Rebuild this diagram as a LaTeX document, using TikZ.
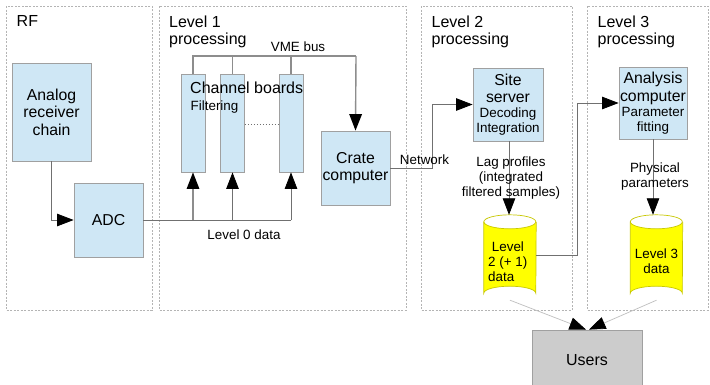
\documentclass[tikz,border=0pt]{standalone}
\usepackage{fontspec}
\setmainfont{Liberation Sans}
\usetikzlibrary{arrows.meta,calc}
\definecolor{boxblue}{HTML}{CFE7F5}
\definecolor{boxline}{HTML}{A0A0A0}
\definecolor{wire}{HTML}{707070}
\definecolor{frameline}{HTML}{B4B4B4}
\definecolor{dbyellow}{HTML}{FFFF00}
\definecolor{dbline}{HTML}{C8C800}
\definecolor{usergray}{HTML}{CCCCCC}
\newcommand{\subfont}{\fontsize{13.4}{15}\selectfont}
\tikzset{
  frame/.style={draw=frameline, dashed, dash pattern=on 2pt off 1.5pt, line width=0.6pt},
  blockbox/.style={draw=boxline, fill=boxblue, line width=0.8pt, inner sep=0pt, align=center,
    font=\fontsize{15.8}{17.5}\selectfont},
  board/.style={draw=boxline, fill=boxblue, line width=0.8pt, inner sep=0pt,
    minimum width=24, minimum height=98},
  heading/.style={anchor=north west, align=left, font=\fontsize{16}{17.5}\selectfont, inner sep=0pt},
  small/.style={font=\fontsize{13.4}{15}\selectfont, inner sep=0pt, align=center},
  wirestyle/.style={draw=wire, line width=0.8pt},
  bus/.style={draw=wire!80, line width=1.4pt},
  tip/.style={-{Triangle[length=16.5pt,width=12.5pt,color=black]}},
  userwire/.style={draw=black!25, line width=0.7pt},
}
\begin{document}
\begin{tikzpicture}[x=1pt,y=-1pt]
\useasboundingbox (0,0) rectangle (710,384);
\fill[white] (0,0) rectangle (710,384);

% processing frames
\draw[frame] (6,6) rectangle (152,310);
\draw[frame] (159,6) rectangle (406,310);
\draw[frame] (421,6) rectangle (572,310);
\draw[frame] (587,6) rectangle (708,310);
\node[heading] (hRF) at (16.5,15.5) {RF};
\node[heading] (h1) at (169,15.5) {Level 1\\processing};
\node[heading] (h2) at (431.5,15.5) {Level 2\\processing};
\node[heading] (h3) at (597.5,15.5) {Level 3\\processing};

% RF stage
\node[blockbox, minimum width=79, minimum height=98] (analog) at (51.5,112) {Analog\\receiver\\chain};
\node[blockbox, minimum width=69, minimum height=74] (adc) at (108.5,220) {ADC};
\draw[wirestyle, tip] (analog.south) |- (adc.west);

% Level 1: channel boards
\node[board] (b1) at (193,123) {};
\node[board] (b2) at (232.5,123) {};
\node[board] (b3) at (291,123) {};
\node[anchor=base west, inner sep=0pt, font=\fontsize{16}{17}\selectfont] (cbl) at (190,93) {Channel boards};
\node[anchor=base west, inner sep=0pt, font=\subfont] (filt) at (190.5,110) {Filtering};
\draw[wire, line width=1pt, dotted] (b2.east |- 0,124) -- (b3.west |- 0,124);

\node[blockbox, minimum width=69, minimum height=74] (crate) at (355.5,168) {Crate\\computer};

% VME bus
\coordinate (vmeL) at (193,56);
\coordinate (vmeR) at (356,56);
\draw[bus] (b1.north) -- (vmeL) -- (vmeR);
\draw[bus] (b2.north) -- (b2.north |- vmeL);
\draw[bus] (b3.north) -- (b3.north |- vmeL);
\draw[bus, tip] (vmeR) -- (crate.north);
\node[small] (vmel) at (298,47) {VME bus};

% Level 0 data distribution
\coordinate (l0end) at (291,220);
\draw[wirestyle] (adc.east) -- (l0end);
\draw[bus, tip] (b1.south |- l0end) -- (b1.south);
\draw[wirestyle, tip] (b2.south |- l0end) -- (b2.south);
\draw[wirestyle, tip] (l0end) -- (b3.south);
\node[small] (l0l) at (244,235) {Level 0 data};

% Level 2
\node[blockbox, minimum width=70, minimum height=73] (site) at (508,104.5)
  {Site\\server\\[-2.5pt]{\subfont Decoding}\\[-2.5pt]{\subfont Integration}};
\coordinate (netA) at (432,168);
\draw[wirestyle, tip] (crate.east |- netA) -- (netA) |- (site.west);
\node[small] (netl) at (424.5,160) {Network};

% data stores
\node[minimum width=52, minimum height=85, inner sep=0pt] (db2) at (510,257.5) {};
\node[minimum width=52, minimum height=85, inner sep=0pt] (db3) at (656.5,257.5) {};
\foreach \d in {db2,db3}{
  \fill[dbyellow] ($(\d.north west)+(0,7)$) -- ($(\d.south west)+(0,-7)$)
    arc[start angle=180, end angle=360, x radius=26, y radius=7]
    -- ($(\d.north east)+(0,7)$) arc[start angle=0, end angle=180, x radius=26, y radius=7] -- cycle;
  \draw[dbline, line width=0.7pt] ($(\d.north west)+(0,7)$) -- ($(\d.south west)+(0,-7)$)
    arc[start angle=180, end angle=360, x radius=26, y radius=7] -- ($(\d.north east)+(0,7)$);
  \draw[dbline, line width=0.7pt] ($(\d.north west)+(0,7)$) arc[start angle=180, end angle=540, x radius=26, y radius=7];
}
\node[anchor=west, align=left, inner sep=0pt, font=\subfont] (db2t) at (488,262) {\ Level\\2 (+ 1)\\data};
\node[align=center, inner sep=0pt, font=\subfont] (db3t) at (656.5,261) {Level 3\\data};

\draw[wirestyle, tip] (site.south -| 509,0) -- (db2.north -| 509,0);
\node[small] (lagl) at (511,178) {Lag profiles\\(integrated\\filtered samples)};

% Level 3
\node[blockbox, minimum width=68, minimum height=72] (ana) at (653,103)
  {Analysis\\computer\\[-2.5pt]{\subfont Parameter}\\[-2.5pt]{\subfont fitting}};
\coordinate (l2A) at (577,255);
\draw[wirestyle, tip] (db2.east |- l2A) -- (l2A) |- (ana.west);
\draw[wirestyle, tip] (ana.south) -- (ana.south |- db3.north);
\node[small] (physl) at (655,177) {Physical\\parameters};

% users
\node[draw=boxline, fill=usergray, line width=0.8pt, minimum width=110, minimum height=60, inner sep=0pt,
  font=\fontsize{16}{17}\selectfont] (users) at (587,360) {Users};
\draw[userwire, tip] (db2.south) -- ([xshift=-1pt]users.north);
\draw[userwire, tip] (db3.south) -- ([xshift=2pt]users.north);
\end{tikzpicture}
\end{document}
